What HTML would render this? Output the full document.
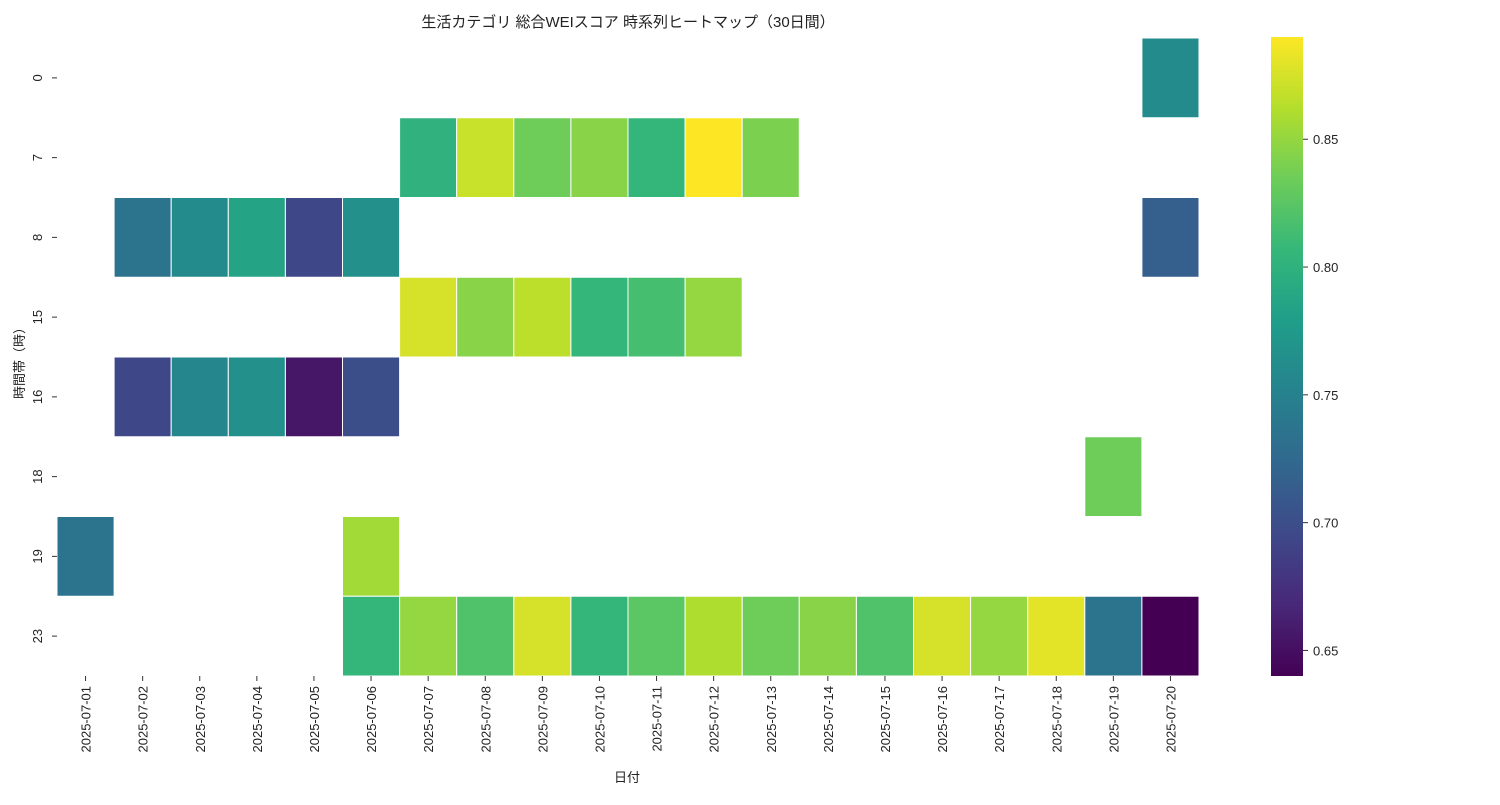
<!DOCTYPE html>
<html><head><meta charset="utf-8"><style>
body{margin:0;background:#fff;}
svg text{font-family:"Liberation Sans","Noto Sans CJK JP",sans-serif;fill:#222;}
</style></head><body>
<svg id="chart" width="1500" height="800">
<defs><linearGradient id="vg" x1="0" y1="1" x2="0" y2="0"></linearGradient></defs>
<text x="628" y="27" text-anchor="middle" font-size="15">生活カテゴリ 総合WEIスコア 時系列ヒートマップ（30日間）</text>
<g id="cells"></g>
<g id="axes"></g>
</svg>
<script>
const dates=["2025-07-01","2025-07-02","2025-07-03","2025-07-04","2025-07-05","2025-07-06","2025-07-07","2025-07-08","2025-07-09","2025-07-10","2025-07-11","2025-07-12","2025-07-13","2025-07-14","2025-07-15","2025-07-16","2025-07-17","2025-07-18","2025-07-19","2025-07-20"];
const hours=["0","7","8","15","16","18","19","23"];
// values[row][col], null = missing
const row0=[null,null,null,null,null,null,null,null,null,null,null,null,null,null,null,null,null,null,null,0.76];
const row7=[null,null,null,null,null,null,0.80,0.87,0.835,0.845,0.805,0.89,0.84,null,null,null,null,null,null,null];
const row8=[null,0.735,0.76,0.785,0.695,0.765,null,null,null,null,null,null,null,null,null,null,null,null,null,0.715];
const row15=[null,null,null,null,null,null,0.875,0.845,0.865,0.805,0.815,0.85,null,null,null,null,null,null,null,null];
const row16=[null,0.695,0.755,0.765,0.655,0.70,null,null,null,null,null,null,null,null,null,null,null,null,null,null];
const row18=[null,null,null,null,null,null,null,null,null,null,null,null,null,null,null,null,null,null,0.835,null];
const row19=[0.735,null,null,null,null,0.855,null,null,null,null,null,null,null,null,null,null,null,null,null,null];
const row23=[null,null,null,null,null,0.805,0.85,0.82,0.875,0.805,0.825,0.86,0.835,0.845,0.82,0.875,0.85,0.88,0.735,0.64];
const values=[row0,row7,row8,row15,row16,row18,row19,row23];
const cbTicks=[0.65,0.70,0.75,0.80,0.85];
const vmin=0.64,vmax=0.89;
const vir=[[68,1,84],[72,40,120],[62,73,137],[49,104,142],[38,130,142],[31,158,137],[53,183,121],[109,205,89],[180,222,44],[253,231,37]];
function cmap(v){let t=Math.max(0,Math.min(1,(v-vmin)/(vmax-vmin)))*(vir.length-1);let i=Math.min(Math.floor(t),vir.length-2),f=t-i;const c=vir[i].map((a,k)=>Math.round(a+(vir[i+1][k]-a)*f));return `rgb(${c})`;}
const NS="http://www.w3.org/2000/svg";
const X0=57,X1=1199,Y0=38,Y1=676;
const cw=(X1-X0)/dates.length,ch=(Y1-Y0)/hours.length;
const xPos=i=>X0+i*cw, yPos=j=>Y0+j*ch;
function mk(tag,attrs,parent){const e=document.createElementNS(NS,tag);for(const k in attrs)e.setAttribute(k,attrs[k]);parent.appendChild(e);return e;}
const cells=document.getElementById('cells'),axes=document.getElementById('axes'),svg=document.getElementById('chart');
values.forEach((row,j)=>row.forEach((v,i)=>{if(v==null)return;
 const r=mk('rect',{x:xPos(i),y:yPos(j),width:cw,height:ch,fill:cmap(v),stroke:'#fff','stroke-width':1},cells);
 
 }));
hours.forEach((h,j)=>{const y=yPos(j)+ch/2;
 mk('line',{x1:52,x2:57,y1:y,y2:y,stroke:'#333'},axes);
 const t=mk('text',{x:0,y:0,'font-size':13,'text-anchor':'middle',transform:`translate(42,${y}) rotate(-90)`},axes);t.textContent=h;
 
 });
dates.forEach((d,i)=>{const x=xPos(i)+cw/2;
 mk('line',{x1:x,x2:x,y1:676,y2:681,stroke:'#333'},axes);
 const t=mk('text',{x:0,y:0,'font-size':13,'text-anchor':'end',transform:`translate(${x+5},686) rotate(-90)`},axes);t.textContent=d;
 
 });
let t=mk('text',{x:627,y:782,'font-size':13,'text-anchor':'middle'},axes);t.textContent='日付';


t=mk('text',{x:0,y:0,'font-size':13,'text-anchor':'middle',transform:'translate(24,360) rotate(-90)'},axes);t.textContent='時間帯（時）';


// colorbar
const g=document.getElementById('vg');
vir.forEach((c,k)=>mk('stop',{offset:(k/(vir.length-1)*100)+'%','stop-color':`rgb(${c})`},g));
const CX=1271,CW=32,CY0=37,CY1=676;
const cb=mk('rect',{x:CX,y:CY0,width:CW,height:CY1-CY0,fill:'url(#vg)'},svg);


const cy=v=>CY1-(v-vmin)/(vmax-vmin)*(CY1-CY0);
cbTicks.forEach(v=>{const y=cy(v);
 mk('line',{x1:CX+CW,x2:CX+CW+5,y1:y,y2:y,stroke:'#333'},svg);
 const tt=mk('text',{x:CX+CW+10,y:y+5,'font-size':13},svg);tt.textContent=v.toFixed(2);
 
 });
</script>
</body></html>
